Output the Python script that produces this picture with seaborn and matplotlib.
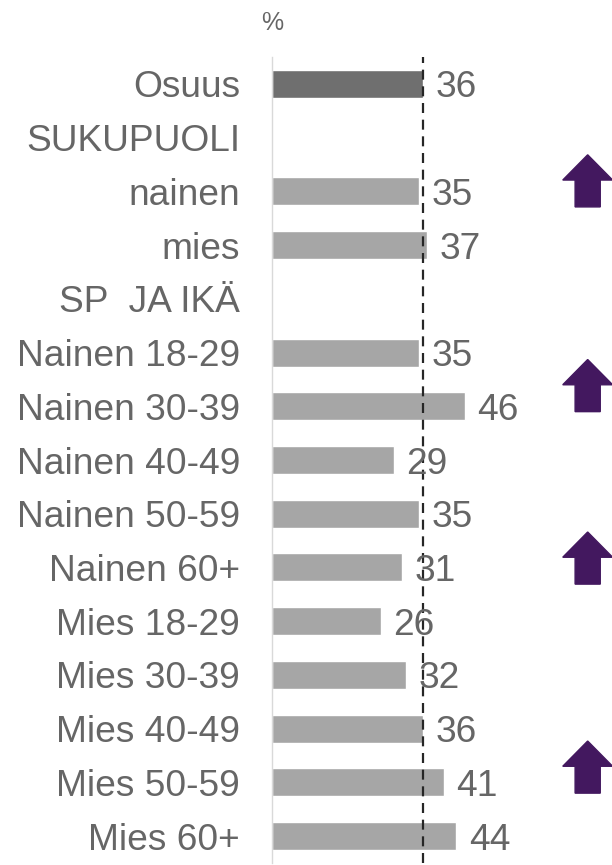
import matplotlib
matplotlib.use("Agg")
import matplotlib.pyplot as plt
import seaborn as sns
import pandas as pd
from matplotlib.patches import FancyArrow

categories = ["Osuus", "SUKUPUOLI", "nainen", "mies", "SP  JA IKÄ",
              "Nainen 18-29", "Nainen 30-39", "Nainen 40-49", "Nainen 50-59",
              "Nainen 60+", "Mies 18-29", "Mies 30-39", "Mies 40-49",
              "Mies 50-59", "Mies 60+"]
values = [36, None, 35, 37, None, 35, 46, 29, 35, 31, 26, 32, 36, 41, 44]
groups = ["total", "head", "sub", "sub", "head", "sub", "sub", "sub", "sub",
          "sub", "sub", "sub", "sub", "sub", "sub"]
reference_value = 36
arrow_rows = [1.81, 5.62, 8.83, 12.72]

sns.set_theme(style="white")
plt.rcParams['font.family'] = ['Liberation Sans', 'DejaVu Sans']

df = pd.DataFrame({"cat": categories,
                   "val": [v if v is not None else 0 for v in values],
                   "grp": groups})

fig = plt.figure(figsize=(6.12, 8.65), dpi=100)
ax = fig.add_axes([272 / 612, 2 / 865, 1 - 272 / 612, (863 - 57) / 865])

sns.barplot(data=df, x="val", y="cat", hue="grp", order=categories,
            palette={"total": "#6f6f6f", "sub": "#a6a6a6", "head": "#a6a6a6"},
            dodge=False, legend=False, width=0.52, ax=ax, saturation=1)

ax.set_xlim(0, 81.1)
ax.set_ylim(len(categories) - 0.5, -0.5)
ax.axvline(reference_value, color="#262626", lw=1.6, ls=(0, (4.5, 3)), zorder=5)

text_color = "#666666"
for i, v in enumerate(values):
    if v is not None:
        ax.text(v + 3.0, i, str(v), va="center_baseline", ha="left",
                fontsize=26.7, color=text_color, zorder=6)

for r in arrow_rows:
    ax.add_patch(FancyArrow(75.3, r + 0.48, 0, -0.97 + 0.47, width=6.0,
                            head_width=11.9, head_length=0.47,
                            length_includes_head=False,
                            color="#43185f", clip_on=False, zorder=7))

ax.set_xlabel("")
ax.set_ylabel("")
ax.set_xticks([])
ax.tick_params(axis="y", length=0, pad=23, labelsize=26.7, labelcolor=text_color)
for s in ["top", "right", "bottom"]:
    ax.spines[s].set_visible(False)
ax.spines["left"].set_color("#d9d9d9")
ax.spines["left"].set_linewidth(1.0)

fig.text(272 / 612, 1 - 23 / 865, "%", ha="center", va="center",
         fontsize=18, color=text_color)

fig.savefig("out.png", dpi=100)
